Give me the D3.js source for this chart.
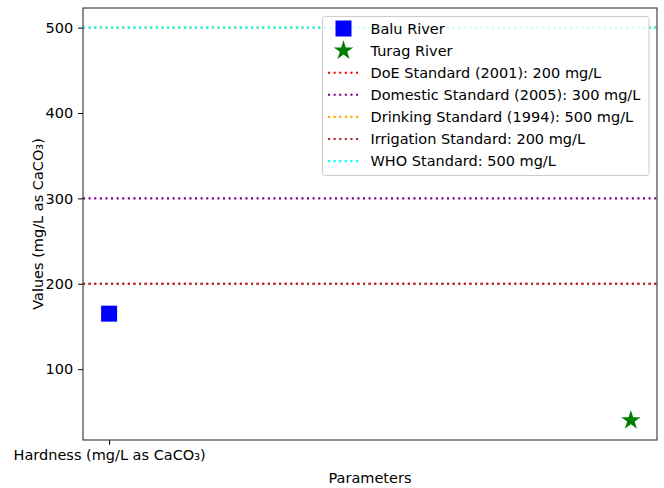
<!DOCTYPE html>
<html>
<head>
<meta charset="utf-8">
<script src="https://cdn.jsdelivr.net/npm/d3@7"></script>
<style>
  html, body { margin: 0; padding: 0; background: #fff; }
  svg text { font-family: "DejaVu Sans", sans-serif; fill: #000; }
</style>
</head>
<body>
<svg id="chart" width="664" height="488"></svg>
<script>
// River samples: position on the x scale and measured hardness
const rivers = ["Balu River", "Turag River"];
const riverX = [0, 1];
const riverValues = [165, 40];
const riverColors = ["#0000ff", "#008000"];
const riverShapes = ["square", "star"];

// Reference standards drawn as horizontal dotted lines
const standardNames = [
  "DoE Standard (2001): 200 mg/L",
  "Domestic Standard (2005): 300 mg/L",
  "Drinking Standard (1994): 500 mg/L",
  "Irrigation Standard: 200 mg/L",
  "WHO Standard: 500 mg/L"
];
const standardValues = [200, 300, 500, 200, 500];
const standardColors = ["#ff0000", "#800080", "#ffa500", "#a52a2a", "#00ffff"];

// Axis ticks
const xTickValues = [0];
const xTickLabels = ["Hardness (mg/L as CaCO₃)"];
const yTickValues = [100, 200, 300, 400, 500];

const svg = d3.select("#chart");
const m = { left: 83, right: 657, top: 8, bottom: 440 };
const fs = 14.5;

// Domains padded by 5% around the data, as the plot autoscale does
const yLo = Math.min(...riverValues, ...standardValues);
const yHi = Math.max(...riverValues, ...standardValues);
const yPad = (yHi - yLo) * 0.05;
const y = d3.scaleLinear().domain([yLo - yPad, yHi + yPad]).range([m.bottom, m.top]);
const xLo = d3.min(riverX), xHi = d3.max(riverX);
const xPad = (xHi - xLo) * 0.05;
const x = d3.scaleLinear().domain([xLo - xPad, xHi + xPad]).range([m.left, m.right]);

const dash = "2.1,3.5";
const lineW = 2.1;

// Standard lines
svg.append("g").selectAll("line")
  .data(standardValues)
  .join("line")
  .attr("x1", m.left).attr("x2", m.right)
  .attr("y1", d => y(d)).attr("y2", d => y(d))
  .attr("stroke", (d, i) => standardColors[i])
  .attr("stroke-width", lineW)
  .attr("stroke-dasharray", dash);

function symbolFor(shape, size) {
  return shape === "square"
    ? d3.symbol().type(d3.symbolSquare).size(size)()
    : d3.symbol().type(d3.symbolStar).size(size)();
}
const markerSize = { square: 256, star: 118 };

// River markers
svg.append("g").selectAll("path")
  .data(riverValues)
  .join("path")
  .attr("transform", (d, i) => `translate(${x(riverX[i])},${y(d)})`)
  .attr("d", (d, i) => symbolFor(riverShapes[i], markerSize[riverShapes[i]]))
  .attr("fill", (d, i) => riverColors[i]);

// Y axis
const yAxis = svg.append("g")
  .attr("transform", `translate(${m.left},0)`)
  .call(d3.axisLeft(y).tickValues(yTickValues).tickSize(4.9).tickPadding(4.9).tickFormat(d3.format("d")));
yAxis.select(".domain").remove();
yAxis.selectAll("text").attr("font-size", fs).style("font-family", "DejaVu Sans");
yAxis.selectAll("line").attr("stroke", "#000").attr("stroke-width", 1);

// X axis
const xAxis = svg.append("g")
  .attr("transform", `translate(0,${m.bottom})`)
  .call(d3.axisBottom(x).tickValues(xTickValues).tickSize(4.9).tickPadding(4.9)
    .tickFormat((d, i) => xTickLabels[i]));
xAxis.select(".domain").remove();
xAxis.selectAll("text").attr("font-size", fs).style("font-family", "DejaVu Sans");
xAxis.selectAll("line").attr("stroke", "#000").attr("stroke-width", 1);

// Frame
svg.append("rect")
  .attr("x", m.left).attr("y", m.top)
  .attr("width", m.right - m.left).attr("height", m.bottom - m.top)
  .attr("fill", "none").attr("stroke", "#333").attr("stroke-width", 1.1);

// Axis titles
svg.append("text")
  .attr("x", (m.left + m.right) / 2).attr("y", 483)
  .attr("text-anchor", "middle").attr("font-size", fs)
  .text("Parameters");
svg.append("text")
  .attr("transform", `translate(43,${(m.top + m.bottom) / 2}) rotate(-90)`)
  .attr("text-anchor", "middle").attr("font-size", fs)
  .text("Values (mg/L as CaCO₃)");

// Legend
const legend = svg.append("g");
legend.append("rect")
  .attr("x", 322.5).attr("y", 16.5).attr("width", 326.5).attr("height", 159)
  .attr("rx", 3).attr("fill", "#fff").attr("fill-opacity", 0.8)
  .attr("stroke", "#ccc").attr("stroke-width", 1);

const rowY0 = 28.5, rowStep = 22.1, textX = 370.5, keyX = 343.5;
const entries = rivers.map((name, i) => ({ kind: "marker", name, i }))
  .concat(standardNames.map((name, i) => ({ kind: "line", name, i })));

entries.forEach((e, k) => {
  const cy = rowY0 + k * rowStep;
  if (e.kind === "marker") {
    legend.append("path")
      .attr("transform", `translate(${keyX},${cy})`)
      .attr("d", symbolFor(riverShapes[e.i], markerSize[riverShapes[e.i]]))
      .attr("fill", riverColors[e.i]);
  } else {
    legend.append("line")
      .attr("x1", 328).attr("x2", 358)
      .attr("y1", cy).attr("y2", cy)
      .attr("stroke", standardColors[e.i])
      .attr("stroke-width", lineW)
      .attr("stroke-dasharray", dash);
  }
  legend.append("text")
    .attr("x", textX).attr("y", cy)
    .attr("dy", "0.36em")
    .attr("font-size", fs)
    .text(e.name);
});
</script>
</body>
</html>
